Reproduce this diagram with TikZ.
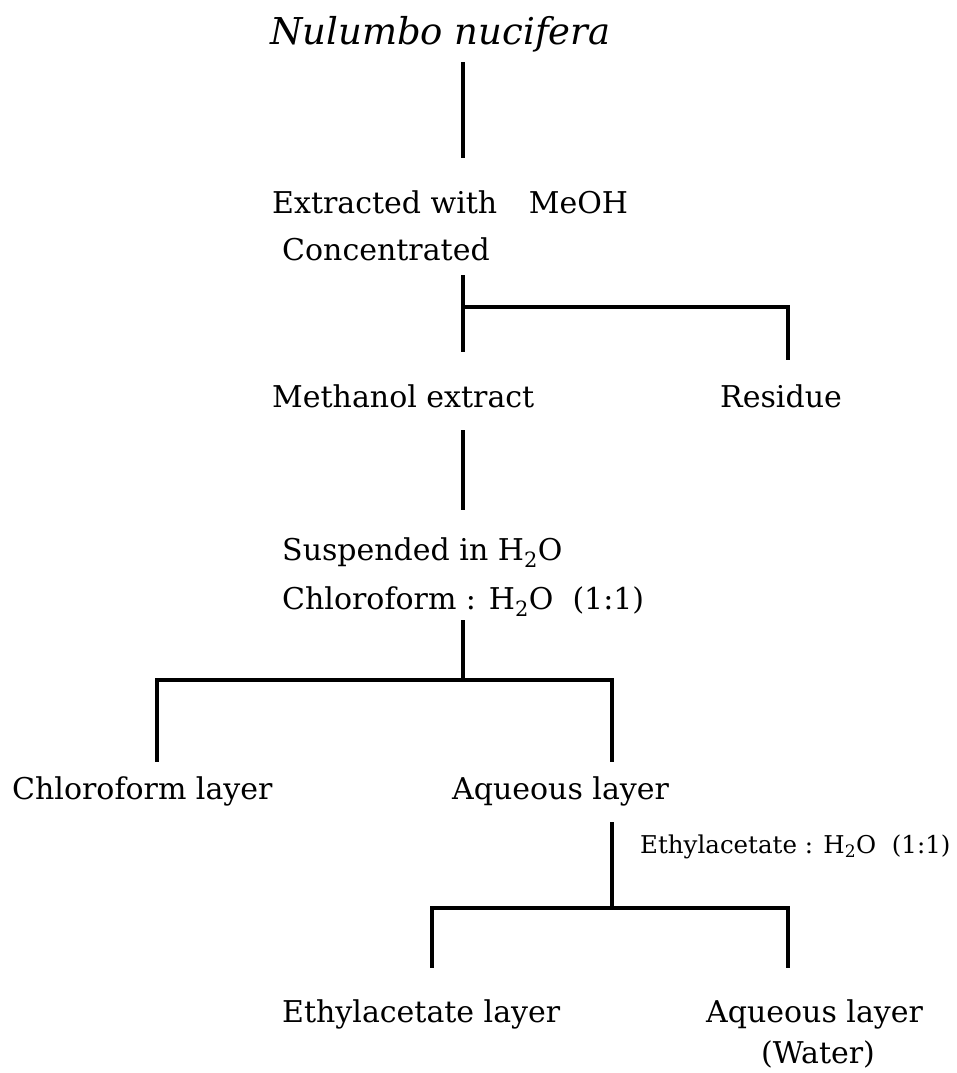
\documentclass[tikz,border=0pt]{standalone}
\usepackage{fontspec}
\setmainfont{DejaVu Serif}
\usetikzlibrary{calc}
\tikzset{
  lbl/.style={inner sep=0pt, text height=23pt, text depth=7pt, anchor=base west,
              font=\fontsize{30}{36}\selectfont},
  lblS/.style={lbl, font=\fontsize{24.5}{29}\selectfont},
  link/.style={line width=3.5pt, black},
}
\newcommand{\water}{H\textsubscript{2}O}

\begin{document}
\begin{tikzpicture}[x=1pt, y=-1pt]
  \useasboundingbox (0,0) rectangle (956,1073);
  % x positions of the vertical strokes
  \coordinate (axA) at (463,0);
  \coordinate (axB) at (788,0);
  \coordinate (axC) at (157,0);
  \coordinate (axD) at (612,0);
  \coordinate (axE) at (432,0);

  \node[lbl, font=\fontsize{37}{42}\selectfont\itshape] (plant) at (270,45) {Nulumbo nucifera};
  \node[lbl] (extr)  at (272,213) {Extracted with\hspace{22pt} MeOH};
  \node[lbl] (conc)  at (282,260) {Concentrated};
  \node[lbl] (meth)  at (272,407) {Methanol extract};
  \node[lbl] (resid) at (720,407) {Residue};
  \node[lbl] (susp)  at (282,560) {Suspended in \water};
  \node[lbl] (chl)   at (282,609) {Chloroform : \water\ \ (1:1)};
  \node[lbl] (chlay) at (12,799)  {Chloroform layer};
  \node[lbl] (aqlay) at (452,799) {Aqueous layer};
  \node[lblS] (eaq)  at (640,853) {Ethylacetate : \water\ \ (1:1)};
  \node[lbl] (ealay) at (282,1022) {Ethylacetate layer};
  \node[lbl] (aqw)   at (706,1022) {Aqueous layer};
  \node[lbl] (wat)   at (761,1063) {(Water)};

  \coordinate (j1) at (463,307);
  \coordinate (j2) at (463,680);
  \coordinate (j3) at (612,908);

  \draw[link, shorten <=10pt, shorten >=32pt] (plant.south -| axA) -- (extr.north -| axA);
  \draw[link, shorten <=8pt, shorten >=32pt] (conc.south -| axA) -- (meth.north -| axA);
  \draw[link, shorten >=24pt] (j1) -- (j1 -| axB) -- (resid.north -| axB);
  \draw[link, shorten <=16pt, shorten >=27pt] (meth.south -| axA) -- (susp.north -| axA);
  \draw[link, shorten <=4pt] (chl.south -| axA) -- (j2);
  \draw[link, shorten <=14pt, shorten >=14pt] (chlay.north -| axC) -- (axC |- j2) -- (axD |- j2) -- (aqlay.north -| axD);
  \draw[link, shorten <=16pt] (aqlay.south -| axD) -- (j3);
  \draw[link, shorten <=31pt, shorten >=31pt] (ealay.north -| axE) -- (axE |- j3) -- (axB |- j3) -- (aqw.north -| axB);
\end{tikzpicture}
\end{document}
